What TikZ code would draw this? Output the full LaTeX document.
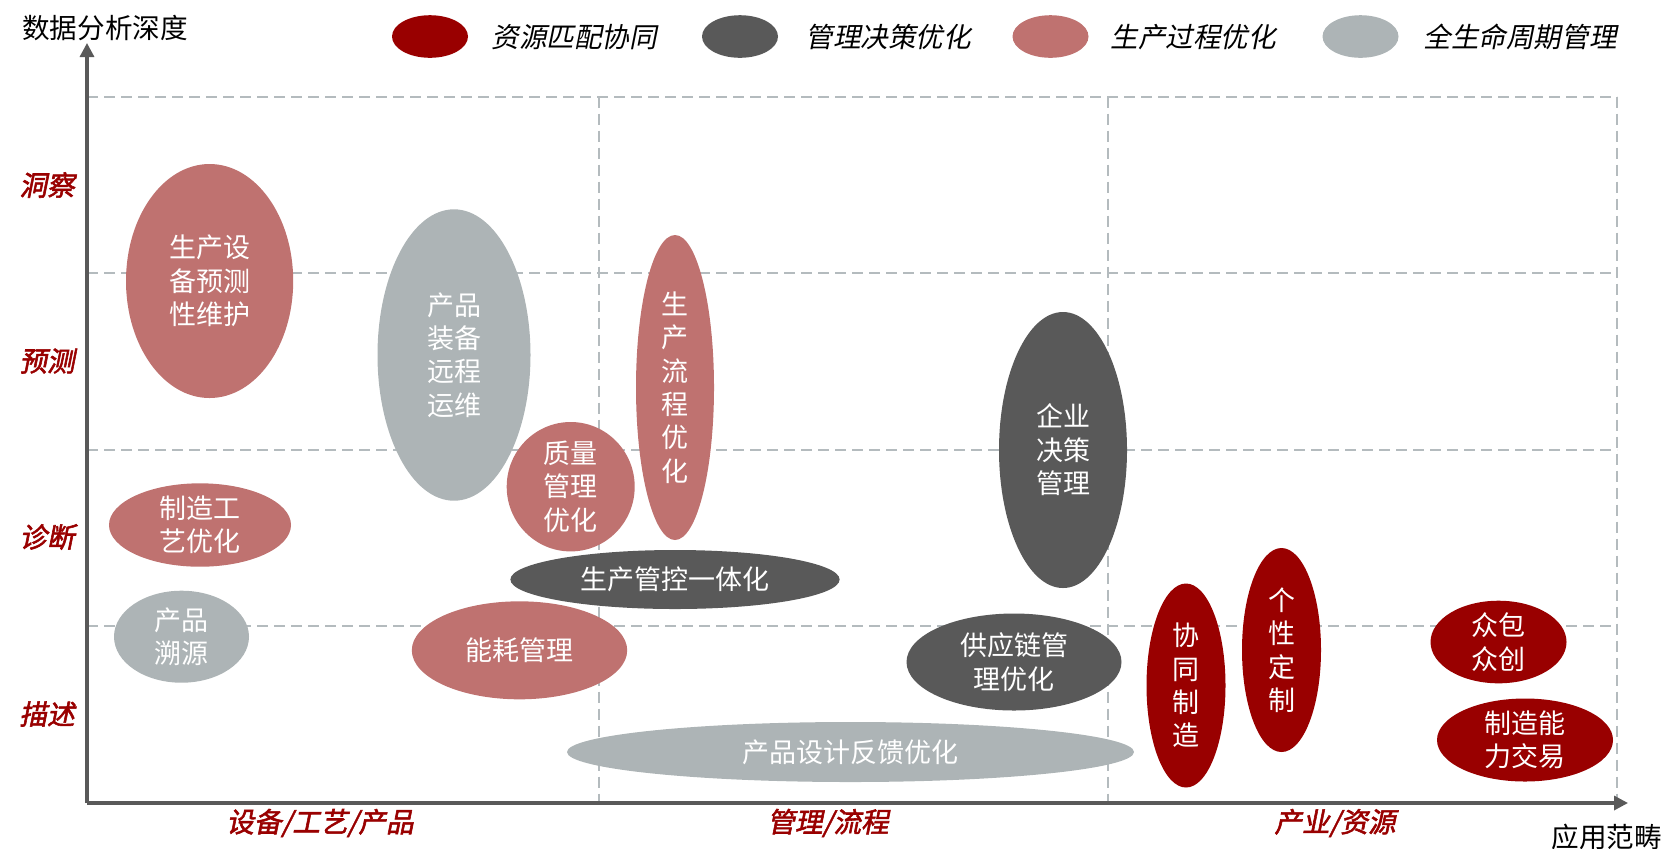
\documentclass[tikz,border=0pt]{standalone}
\usepackage{fontspec}
\usetikzlibrary{shapes.geometric,arrows.meta}
\newfontfamily\cjk{Noto Sans CJK SC}
\newfontfamily\cjkit{Noto Sans CJK SC}[FakeSlant=0.2]
\newfontfamily\cjkbi{Noto Sans CJK SC}[FakeSlant=0.2,FakeBold=2]
\definecolor{cRed}{HTML}{990000}
\definecolor{cDark}{HTML}{595959}
\definecolor{cPink}{HTML}{BF7270}
\definecolor{cGray}{HTML}{ADB4B6}
\definecolor{cGrid}{HTML}{B4BBBE}
\tikzset{
  bub/.style 2 args={ellipse, minimum width=#1pt, minimum height=#2pt, inner sep=0pt,
    text=white, align=center, font=\cjk\fontsize{13.5}{16.7}\selectfont},
  legdot/.style={ellipse, minimum width=38pt, minimum height=21.3pt, inner sep=0pt},
  legtext/.style={anchor=west, inner sep=0pt, font=\cjkit\fontsize{13.8}{16}\selectfont},
  axlabel/.style={inner sep=0pt, text=cRed, font=\cjkbi\fontsize{13.8}{16}\selectfont},
  gridline/.style={cGrid, line width=1pt, dash pattern=on 5.5pt off 3pt},
  axisline/.style={cDark, line width=1.6pt, -{Triangle[length=7pt,width=7pt]}},
}
\begin{document}
\begin{tikzpicture}[x=0.5pt,y=-0.5pt]
\useasboundingbox (0,0) rectangle (1663,848);
% grid
\draw[gridline] (87,96.5) -- (1617,96.5);
\draw[gridline] (87,272.6) -- (1617,272.6);
\draw[gridline] (87,449.7) -- (1617,449.7);
\draw[gridline] (87,625.8) -- (1617,625.8);
\draw[gridline] (599,96.5) -- (599,803);
\draw[gridline] (1108,96.5) -- (1108,803);
\draw[gridline] (1617,96.5) -- (1617,803);
% axes
\coordinate (O) at (87,803);
\coordinate (Ytip) at (87,43);
\coordinate (Xtip) at (1628,803);
\draw[axisline] (O) -- (Ytip);
\draw[axisline] (O) -- (Xtip);
\node[anchor=west, inner sep=0pt, font=\cjk\fontsize{13.8}{16}\selectfont] (ytitle) at (22,28) {数据分析深度};
\node[anchor=west, inner sep=0pt, font=\cjk\fontsize{13.8}{16}\selectfont] (xtitle) at (1551,837) {应用范畴};
% y labels
\node[axlabel] (l1) at (47,185) {洞察};
\node[axlabel] (l2) at (47,361) {预测};
\node[axlabel] (l3) at (47,537) {诊断};
\node[axlabel] (l4) at (47,714) {描述};
% x labels
\node[axlabel] (x1) at (320,823) {设备/工艺/产品};
\node[axlabel] (x2) at (828,823) {管理/流程};
\node[axlabel] (x3) at (1335,823) {产业/资源};
% legend
\node[legdot, fill=cRed] (d1) at (430,36.5) {};
\node[legtext] (t1) at (491,37) {资源匹配协同};
\node[legdot, fill=cDark] (d2) at (740,36.5) {};
\node[legtext] (t2) at (805,37) {管理决策优化};
\node[legdot, fill=cPink] (d3) at (1050.5,36.5) {};
\node[legtext] (t3) at (1110,37) {生产过程优化};
\node[legdot, fill=cGray] (d4) at (1360.5,36.5) {};
\node[legtext] (t4) at (1423,37) {全生命周期管理};
% bubbles
\node[bub={83.6}{117}, fill=cPink] (e1) at (209.6,281) {生产设\\备预测\\性维护};
\node[bub={76.5}{145.7}, fill=cGray] (e2) at (454,355) {产品\\装备\\远程\\运维};
\node[bub={39}{152.5}, fill=cPink] (e3) at (675,387.5) {生\\产\\流\\程\\优\\化};
\node[bub={64}{56.7}, fill=cPink] (e4) at (570.7,486.7) {质量\\管理\\优化};
\node[bub={91}{41.7}, fill=cPink] (e5) at (200,525) {制造工\\艺优化};
\node[bub={164.6}{29.5}, fill=cDark] (e6) at (675,579.5) {生产管控一体化};
\node[bub={67.5}{46}, fill=cGray] (e7) at (181.5,636.7) {产品\\溯源};
\node[bub={107.7}{49}, fill=cPink] (e8) at (519.5,650.3) {能耗管理};
\node[bub={64}{138}, fill=cDark] (e9) at (1063,450) {企业\\决策\\管理};
\node[bub={107.5}{48.5}, fill=cDark] (e10) at (1014,662) {供应链管\\理优化};
\node[bub={283.5}{30}, fill=cGray] (e11) at (850.5,752) {产品设计反馈优化};
\node[bub={39.5}{102}, fill=cRed] (e12) at (1186,685.5) {协\\同\\制\\造};
\node[bub={39.5}{102}, fill=cRed] (e13) at (1281.5,650) {个\\性\\定\\制};
\node[bub={68}{36.4}, fill=cRed] (e14) at (1498.5,642) {众包\\众创};
\node[bub={88}{41.5}, fill=cRed] (e15) at (1525,740) {制造能\\力交易};
\end{tikzpicture}
\end{document}
